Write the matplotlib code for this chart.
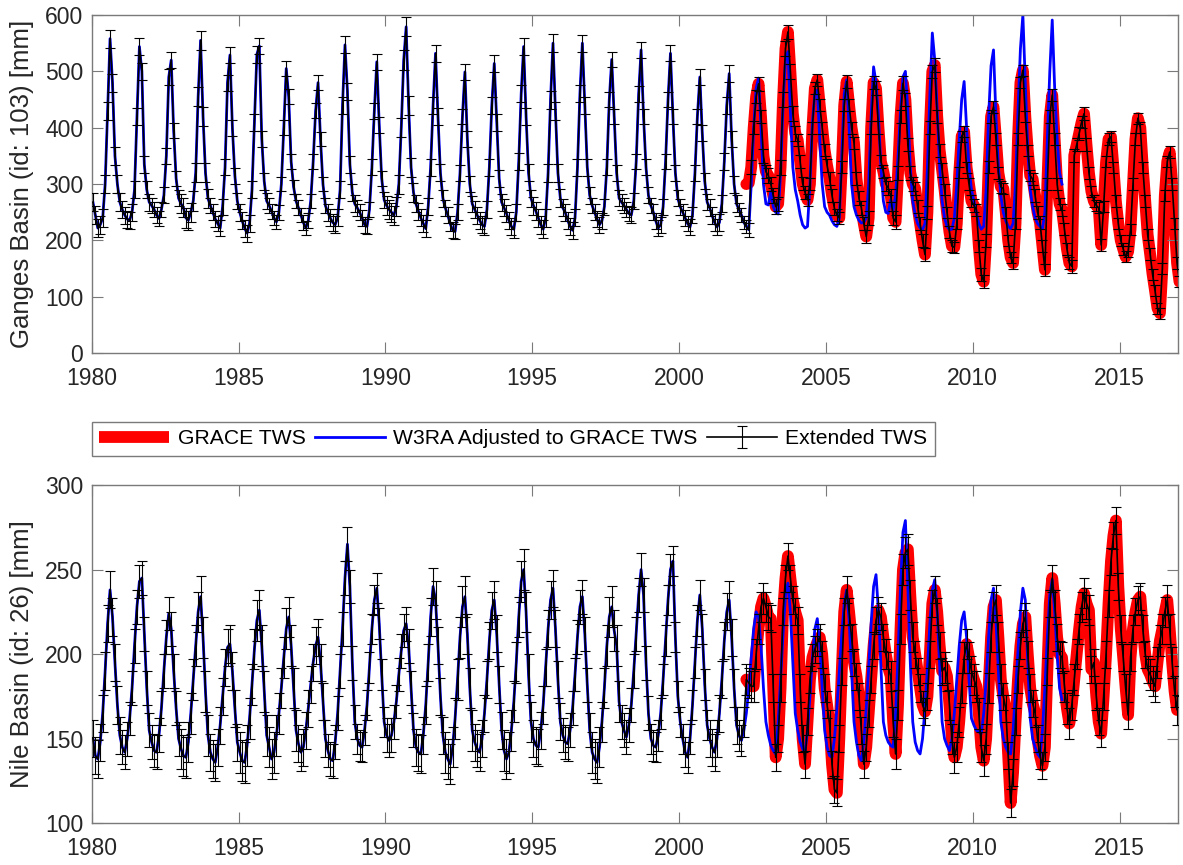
import numpy as np
import matplotlib
matplotlib.use('Agg')
import matplotlib.pyplot as plt
from matplotlib.lines import Line2D

plt.rcParams['font.family'] = ['Liberation Sans', 'DejaVu Sans']


# ---- Ganges basin, monthly extended TWS [mm], Jan 1980 -> Jan 2017 ----
ganges_ext_1980s = [
    268, 245, 222, 228, 240, 300, 430, 558, 480, 350, 300, 268,
    255, 245, 238, 236, 250, 290, 420, 544, 500, 335, 290, 268,
    262, 255, 245, 239, 255, 280, 350, 490, 520, 395, 310, 275,
    265, 258, 240, 236, 250, 270, 320, 455, 555, 420, 320, 275,
    262, 250, 238, 230, 222, 260, 330, 480, 529, 400, 315, 270,
    250, 235, 222, 213, 230, 290, 410, 530, 545, 380, 305, 270,
    262, 252, 240, 233, 250, 300, 400, 505, 455, 340, 295, 270,
    258, 245, 232, 222, 235, 270, 340, 430, 480, 380, 300, 262,
    250, 240, 232, 228, 240, 290, 440, 547, 465, 335, 285, 265,
    258, 250, 240, 228, 225, 255, 330, 430, 517, 405, 310, 272,
]
ganges_ext_1990s = [
    262, 255, 250, 245, 260, 300, 400, 520, 579, 440, 330, 285,
    265, 252, 240, 230, 221, 260, 330, 440, 532, 420, 320, 275,
    258, 245, 230, 218, 216, 250, 320, 420, 499, 380, 300, 265,
    255, 245, 236, 228, 225, 255, 330, 440, 514, 410, 310, 268,
    258, 248, 235, 225, 220, 250, 340, 460, 544, 420, 320, 275,
    262, 252, 240, 228, 220, 240, 320, 450, 550, 430, 320, 275,
    258, 250, 236, 225, 218, 240, 330, 460, 550, 440, 330, 280,
    262, 250, 238, 228, 235, 260, 330, 450, 521, 420, 320, 275,
    268, 262, 255, 248, 245, 270, 340, 460, 538, 420, 330, 280,
    262, 250, 235, 222, 228, 260, 340, 450, 532, 420, 320, 275,
]
ganges_ext_2000s = [
    260, 250, 240, 230, 224, 245, 320, 420, 490, 390, 305, 268,
    258, 245, 232, 224, 232, 265, 340, 440, 496, 380, 300, 265,
    255, 245, 232, 225, 219, 330, 400, 455, 478, 420, 350, 322,
    315, 300, 280, 260, 265, 330, 450, 540, 570, 500, 425, 390,
    378, 340, 301, 285, 272, 300, 400, 470, 485, 440, 400, 360,
    333, 310, 280, 257, 245, 240, 330, 440, 482, 440, 400, 373,
    310, 275, 258, 230, 207, 240, 400, 480, 470, 400, 340, 322,
    300, 293, 280, 240, 233, 320, 420, 479, 450, 370, 320, 300,
    292, 260, 230, 200, 175, 250, 400, 500, 511, 420, 360, 325,
    290, 250, 215, 190, 188, 230, 320, 385, 393, 330, 300, 270,
]
ganges_ext_2010s = [
    262, 254, 190, 140, 127, 200, 330, 420, 437, 380, 320, 295,
    292, 250, 200, 170, 160, 230, 380, 480, 502, 420, 360, 315,
    309, 280, 250, 232, 190, 148, 300, 420, 458, 380, 300, 265,
    254, 220, 185, 160, 154, 351, 370, 390, 410, 425, 370, 320,
    287, 270, 262, 258, 192, 260, 340, 380, 384, 330, 270, 230,
    200, 185, 171, 180, 220, 300, 380, 417, 400, 330, 270, 210,
    176, 140, 111, 80, 71, 150, 280, 340, 357, 300, 230, 160,
    127,
]
# W3RA adjusted, Jun 2002 -> Jan 2013 (earlier months coincide with extended TWS)
ganges_w3ra_late = [
    300, 400, 470, 488, 400, 300, 265,
    263, 287, 260, 250, 247, 320, 440, 520, 535, 430, 330, 290,
    270, 245, 228, 222, 225, 300, 410, 460, 467, 380, 300, 260,
    250, 245, 235, 228, 225, 240, 350, 460, 485, 400, 300, 260,
    245, 236, 231, 232, 240, 300, 420, 508, 480, 420, 330, 270,
    250, 248, 272, 254, 280, 350, 430, 490, 500, 430, 330, 270,
    245, 230, 222, 219, 230, 330, 460, 568, 520, 430, 330, 270,
    240, 225, 219, 220, 240, 300, 380, 450, 482, 400, 330, 290,
    270, 250, 230, 220, 225, 290, 420, 510, 538, 420, 330, 280,
    250, 235, 225, 221, 230, 300, 430, 540, 600, 480, 360, 290,
    260, 240, 230, 225, 221, 250, 380, 500, 591, 470, 380, 320,
    300,
]
# first GRACE months (Apr, May 2002); afterwards GRACE = extended TWS
ganges_grace_head = [300, 302]
# yearly uncertainty (half width) of extended TWS, 1980..2017
ganges_err = [16, 15, 14, 17, 14, 15, 13, 13, 15, 14,
              17, 15, 14, 15, 15, 16, 15, 14, 14, 14,
              14, 15, 12, 13, 11, 11, 12, 12, 12, 10,
              11, 10, 11, 11, 10, 10, 10, 10]

# ---- Nile basin, monthly extended TWS [mm], Jan 1980 -> Jan 2017 ----
nile_ext_1980s = [
    150, 140, 138, 148, 165, 190, 218, 238, 222, 195, 170, 152,
    145, 142, 150, 162, 180, 205, 228, 243, 245, 212, 180, 155,
    148, 143, 142, 152, 168, 190, 210, 224, 215, 190, 168, 150,
    144, 140, 139, 148, 165, 185, 205, 225, 234, 210, 178, 152,
    142, 138, 136, 145, 158, 175, 192, 204, 206, 190, 168, 148,
    142, 137, 136, 146, 162, 182, 203, 220, 226, 205, 178, 152,
    145, 138, 142, 152, 165, 180, 198, 215, 222, 205, 180, 155,
    147, 142, 145, 155, 168, 182, 195, 205, 210, 195, 172, 150,
    143, 138, 137, 148, 165, 190, 215, 245, 265, 240, 195, 160,
    150, 146, 145, 155, 170, 192, 215, 232, 239, 218, 188, 160,
]
nile_ext_1990s = [
    152, 149, 152, 160, 172, 188, 202, 214, 218, 205, 180, 155,
    145, 142, 141, 152, 170, 195, 222, 240, 232, 205, 175, 152,
    142, 138, 135, 145, 162, 185, 210, 228, 234, 212, 180, 155,
    148, 144, 142, 150, 165, 185, 208, 226, 232, 212, 182, 155,
    143, 138, 142, 155, 172, 195, 222, 243, 250, 225, 188, 160,
    150, 146, 145, 155, 170, 192, 215, 232, 239, 215, 185, 160,
    152, 148, 147, 155, 168, 188, 210, 228, 234, 212, 182, 155,
    142, 138, 136, 145, 160, 180, 205, 222, 228, 214, 205, 172,
    160, 155, 151, 158, 170, 190, 212, 235, 250, 235, 195, 165,
    150, 146, 145, 152, 165, 185, 208, 232, 250, 255, 210, 175,
]
nile_ext_2000s = [
    160, 150, 142, 139, 150, 170, 195, 220, 235, 215, 182, 158,
    150, 145, 142, 150, 165, 185, 208, 225, 232, 210, 180, 158,
    152, 149, 160, 185, 183, 181, 181, 200, 215, 228, 233, 228,
    222, 221, 180, 139, 150, 180, 225, 245, 258, 245, 232, 225,
    220, 180, 150, 135, 160, 185, 198, 203, 207, 210, 200, 180,
    170, 159, 135, 120, 118, 150, 190, 225, 238, 225, 210, 195,
    187, 175, 155, 135, 145, 165, 185, 205, 220, 226, 222, 210,
    200, 192, 187, 160, 141, 170, 215, 250, 260, 262, 235, 210,
    200, 190, 180, 170, 166, 175, 200, 230, 238, 225, 205, 190,
    192, 187, 170, 150, 139, 145, 160, 180, 198, 206, 198, 190,
]
nile_ext_2010s = [
    185, 181, 165, 145, 137, 150, 180, 210, 228, 232, 210, 185,
    175, 168, 140, 112, 130, 160, 185, 205, 218, 222, 200, 180,
    171, 165, 150, 140, 134, 145, 190, 230, 245, 230, 210, 200,
    198, 181, 168, 159, 170, 185, 200, 215, 228, 236, 230, 226,
    191, 195, 175, 160, 153, 175, 200, 230, 255, 270, 279, 240,
    215, 198, 180, 164, 198, 215, 225, 232, 234, 215, 200, 191,
    188, 184, 181, 195, 208, 215, 225, 232, 215, 195, 178, 167,
    184,
]
# W3RA adjusted, Mar 2002 -> Jan 2013
nile_w3ra_late = [
    155, 165, 180, 198, 215, 225, 222, 205, 180, 160,
    152, 146, 143, 141, 160, 185, 212, 235, 242, 225, 195, 165,
    155, 148, 144, 142, 155, 175, 198, 215, 221, 205, 180, 155,
    145, 140, 139, 150, 168, 190, 212, 230, 238, 220, 190, 160,
    148, 140, 137, 148, 168, 192, 218, 240, 247, 225, 192, 160,
    152, 148, 146, 145, 165, 200, 240, 272, 279, 240, 195, 160,
    148, 143, 141, 150, 168, 192, 218, 238, 244, 225, 192, 160,
    150, 146, 143, 150, 165, 185, 205, 220, 225, 210, 185, 162,
    158, 155, 154, 153, 165, 185, 210, 232, 239, 220, 190, 160,
    150, 145, 142, 141, 155, 178, 202, 225, 239, 232, 195, 162,
    150, 145, 141, 139, 155, 180, 210, 235, 244, 225, 200, 180,
    173,
]
nile_grace_head = []
nile_err = [11, 10, 10, 12, 11, 12, 12, 11, 10, 9,
            10, 11, 12, 11, 12, 11, 10, 12, 10, 9,
            9, 11, 9, 8, 8, 8, 8, 9, 8, 9,
            9, 8, 8, 9, 8, 8, 9, 9]

years = np.arange(1980, 2016, 5)
legend_labels = ['GRACE TWS', 'W3RA Adjusted to GRACE TWS', 'Extended TWS']

APR_2002 = 22 * 12 + 3   # month index of first GRACE sample


def month_times(start, n):
    idx = np.arange(start, start + n)
    return 1980 + (idx + 0.5) / 12.0


def panel(ax, ext, w3ra_late, grace_head, err, ylim, yticks, ylabel):
    ext = np.asarray(ext, float)
    t = month_times(0, len(ext))
    yerr = np.repeat(err, 12)[:len(ext)]

    # W3RA follows the extended series until its own late part starts
    w_start = APR_2002 + len(grace_head) if grace_head else APR_2002 - 1
    w3ra = np.concatenate([ext[:w_start], w3ra_late])
    t_w = month_times(0, len(w3ra))

    grace = np.concatenate([grace_head, ext[APR_2002 + len(grace_head):]])
    t_g = month_times(APR_2002, len(grace))

    ax.plot(t_g, grace, color='#ff0000', lw=8.5, solid_capstyle='round',
            solid_joinstyle='round', zorder=1)
    h_w, = ax.plot(t_w, w3ra, color='#0000ff', lw=2.0, zorder=2)
    h_e = ax.errorbar(t, ext, yerr=yerr, color='black', lw=1.2, elinewidth=0.8,
                      capsize=3.6, capthick=0.8, zorder=3)

    ax.set_xlim(1980, 2017)
    ax.set_ylim(*ylim)
    ax.set_xticks(years)
    ax.set_yticks(yticks)
    ax.set_ylabel(ylabel, fontsize=18.5, color='#262626', labelpad=8)
    ax.tick_params(direction='in', length=8, width=0.8, color='#7a7a7a',
                   labelcolor='#262626', labelsize=16.5, top=True, right=True)
    ax.tick_params(axis='y', pad=6)
    ax.tick_params(axis='x', pad=10)
    for s in ax.spines.values():
        s.set_color('#7a7a7a')
        s.set_linewidth(1.0)
    return h_w, h_e


fig = plt.figure(figsize=(11.83, 8.65), dpi=100)
ax1 = fig.add_axes([0.0775, 0.5916, 0.9185, 0.3911])
ax2 = fig.add_axes([0.0775, 0.0482, 0.9185, 0.3911])

ganges_ext = ganges_ext_1980s + ganges_ext_1990s + ganges_ext_2000s + ganges_ext_2010s
nile_ext = nile_ext_1980s + nile_ext_1990s + nile_ext_2000s + nile_ext_2010s

h_w, h_e = panel(ax1, ganges_ext, ganges_w3ra_late, ganges_grace_head, ganges_err,
                 (0, 600), np.arange(0, 601, 100), 'Ganges Basin (id: 103) [mm]')
panel(ax2, nile_ext, nile_w3ra_late, nile_grace_head, nile_err,
      (100, 300), np.arange(100, 301, 50), 'Nile Basin (id: 26) [mm]')

# legend key for GRACE drawn as a flat thick bar
h_g = Line2D([], [], color='#ff0000', lw=8.5, solid_capstyle='butt')

leg = fig.legend([h_g, h_w, h_e], legend_labels,
                 loc='upper left', bbox_to_anchor=(0.0778, 1 - 422 / 865), ncol=3,
                 fontsize=15.2, handlelength=3.3, handletextpad=0.4, columnspacing=0.45,
                 borderpad=0.35, borderaxespad=0, fancybox=False, framealpha=1)
leg.get_frame().set_edgecolor('#7a7a7a')
leg.get_frame().set_linewidth(1.0)

fig.savefig('out.png', dpi=100)
